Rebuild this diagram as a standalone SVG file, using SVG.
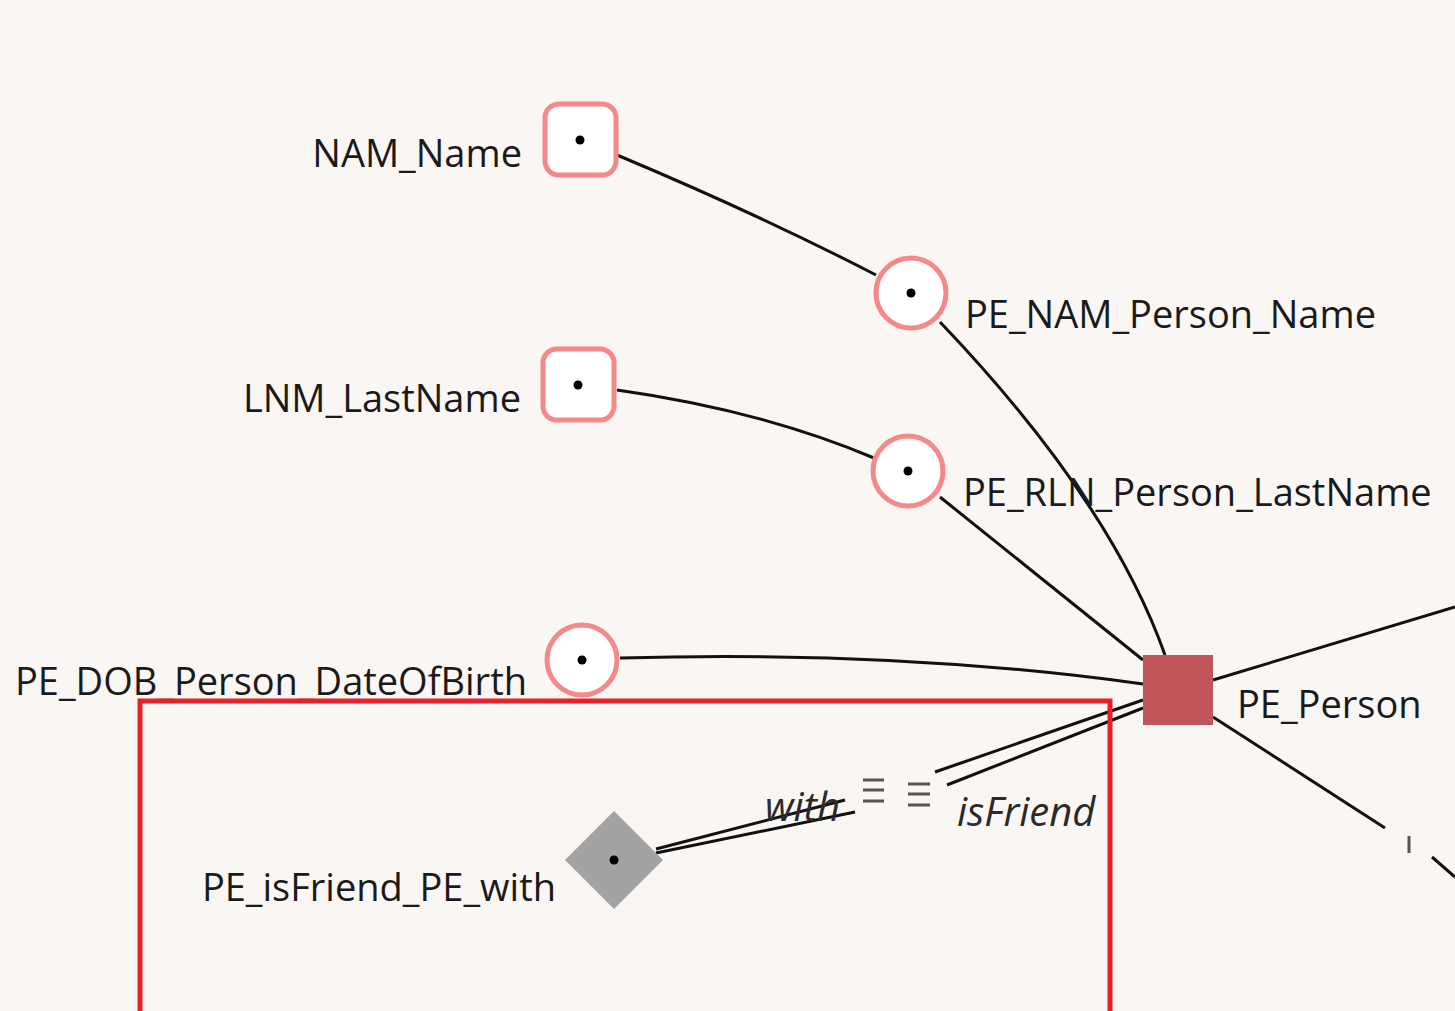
<svg xmlns="http://www.w3.org/2000/svg" width="1455" height="1011" viewBox="0 0 1455 1011">
<style>
.lbl{font-family:"Open Sans","Liberation Sans",sans-serif;font-size:38px;fill:#1a1a1a}
.it{font-family:"Open Sans","Liberation Sans",sans-serif;font-size:40px;font-style:italic;fill:#2a2a2a}
.sym{stroke:#555;stroke-width:3}
.attr{fill:#fff;stroke:#f4888a;stroke-width:5}
.edge{fill:none;stroke:#111;stroke-width:3}
.dot{fill:#000}
</style>
<rect width="1455" height="1011" fill="#f9f6f4"/>
<g id="connectors">
<path class="edge" d="M617,155 Q760,215 876,275"/>
<path class="edge" d="M940,322 Q1110,500 1165,655"/>
<path class="edge" d="M617,390 Q760,410 874,458"/>
<path class="edge" d="M940,497 L1143,660"/>
<path class="edge" d="M620,658 Q900,650 1143,684"/>
<path class="edge" d="M1213,680 L1455,607"/>
<path class="edge" d="M1213,717 L1385,828"/>
<path class="edge" d="M1432,857 L1455,877"/>
<line x1="1409" y1="836" x2="1409" y2="853" stroke="#555" stroke-width="3"/>
<path class="edge" d="M1143,700 L935,772"/>
<path class="edge" d="M1143,708 L947,785"/>
<path class="edge" d="M656,853 L855,812"/>
<path class="edge" d="M656,849 L845,800"/>
</g>
<g id="NAM_Name">
<rect class="attr" x="545" y="104" width="71" height="71" rx="14"/>
<circle class="dot" cx="580" cy="140" r="4.5"/>
<text class="lbl" x="522" y="167" text-anchor="end">NAM_Name</text>
</g>
<g id="PE_NAM_Person_Name">
<circle class="attr" cx="911" cy="293" r="35"/>
<circle class="dot" cx="911" cy="293" r="4.5"/>
<text class="lbl" x="965" y="328">PE_NAM_Person_Name</text>
</g>
<g id="LNM_LastName">
<rect class="attr" x="543" y="349" width="71" height="71" rx="14"/>
<circle class="dot" cx="578" cy="385" r="4.5"/>
<text class="lbl" x="521" y="412" text-anchor="end">LNM_LastName</text>
</g>
<g id="PE_RLN_Person_LastName">
<circle class="attr" cx="908" cy="471" r="35"/>
<circle class="dot" cx="908" cy="471" r="4.5"/>
<text class="lbl" x="963" y="506">PE_RLN_Person_LastName</text>
</g>
<g id="PE_DOB_Person_DateOfBirth">
<circle class="attr" cx="582" cy="660" r="35"/>
<circle class="dot" cx="582" cy="660" r="4.5"/>
<text class="lbl" x="527" y="695" text-anchor="end">PE_DOB_Person_DateOfBirth</text>
</g>
<g id="PE_Person">
<rect x="1143" y="655" width="70" height="70" fill="#bf5558"/>
<text class="lbl" x="1237" y="718">PE_Person</text>
</g>
<g id="PE_isFriend_PE_with">
<polygon points="614,811 663,860 614,909 565,860" fill="#a3a3a3"/>
<circle class="dot" cx="614" cy="860" r="4.5"/>
<text class="lbl" x="556" y="901" text-anchor="end">PE_isFriend_PE_with</text>
</g>
<g id="edge-labels">
<text class="it" x="765" y="821">with</text>
<text class="it" x="957" y="826">isFriend</text>
<g class="sym">
<line x1="863" y1="780" x2="884" y2="780"/><line x1="863" y1="790" x2="884" y2="790"/><line x1="863" y1="801" x2="884" y2="801"/>
<line x1="908" y1="784" x2="930" y2="784"/><line x1="908" y1="794" x2="930" y2="794"/><line x1="908" y1="805" x2="930" y2="805"/>
</g>
</g>
<rect x="140" y="701" width="970" height="320" fill="none" stroke="#e8202a" stroke-width="5"/>
</svg>
